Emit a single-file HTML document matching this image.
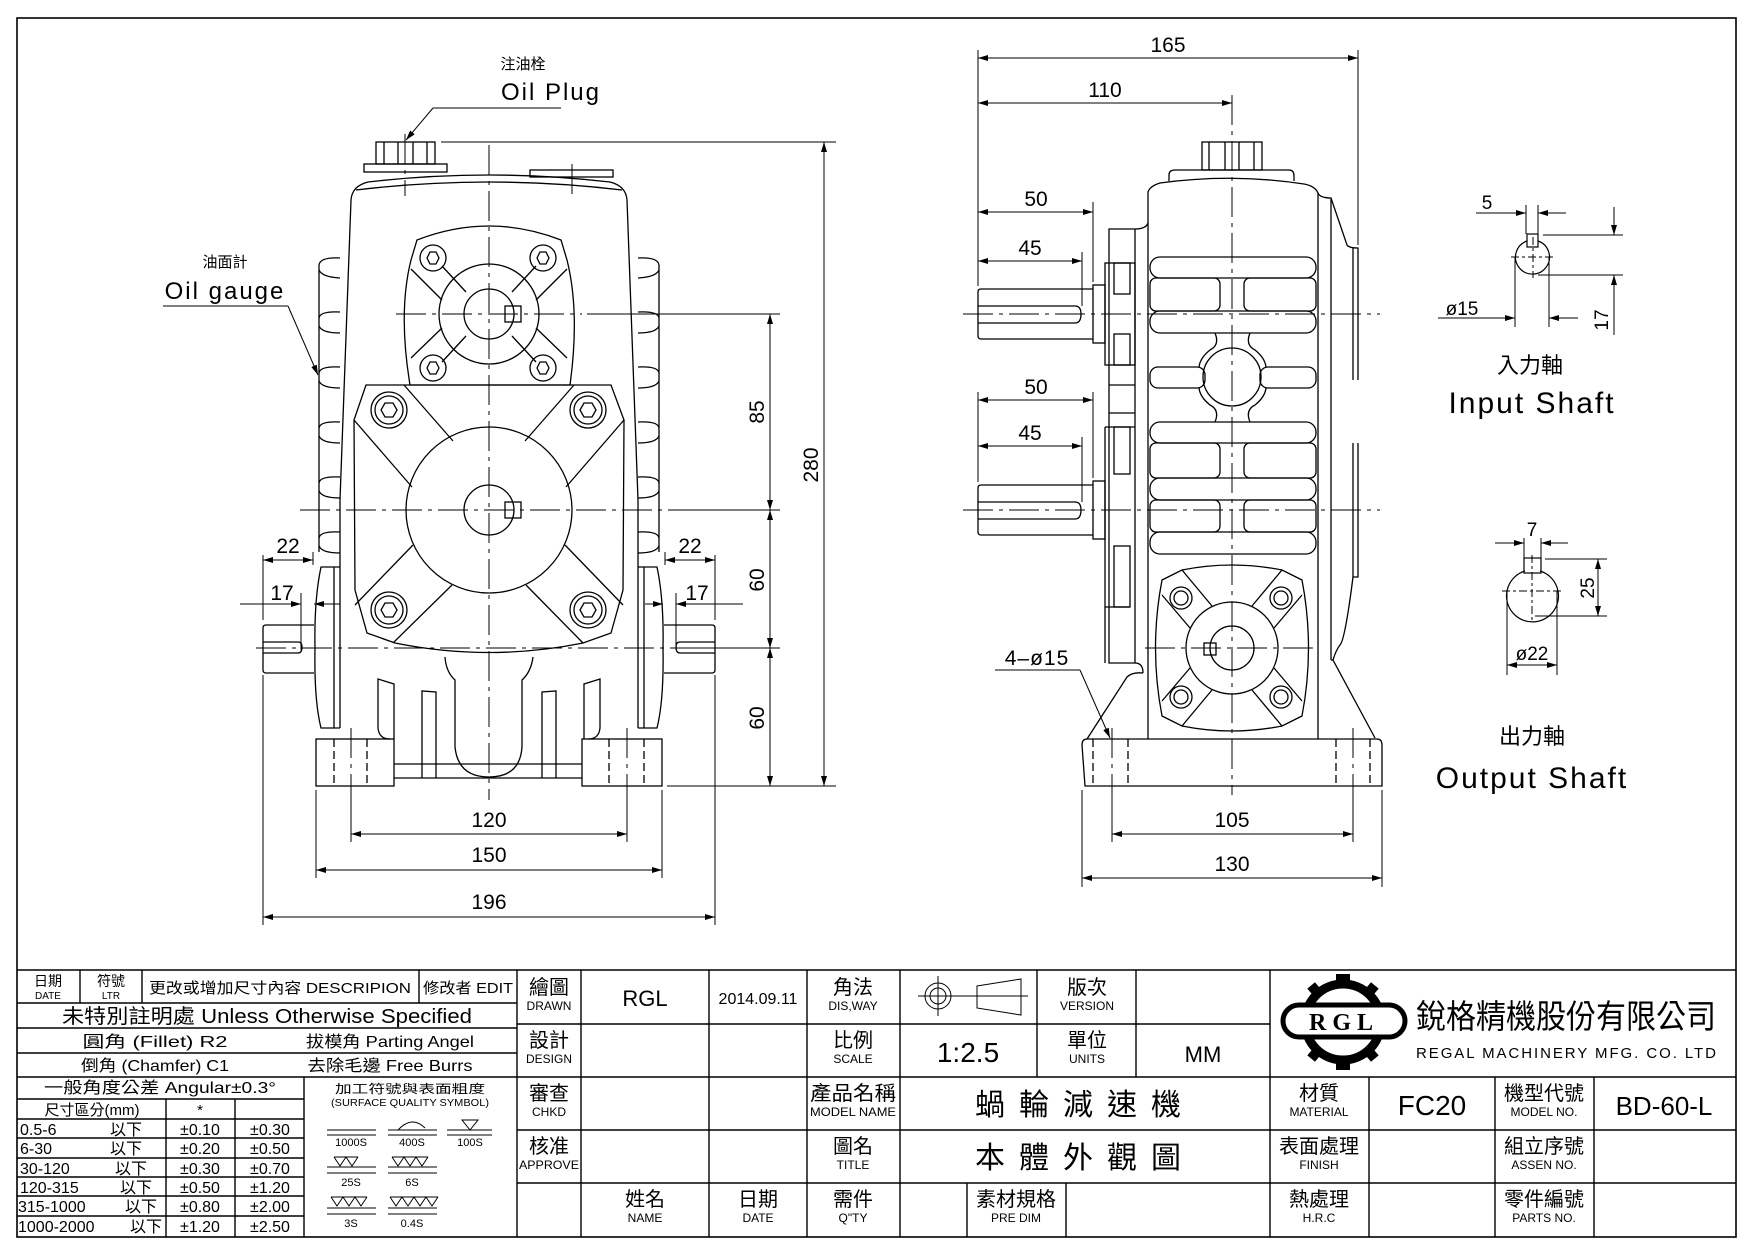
<!DOCTYPE html>
<html><head><meta charset="utf-8">
<style>
html,body{margin:0;padding:0;background:#fff;}
svg{display:block;}
text{font-family:"Liberation Sans","Noto Sans CJK TC",sans-serif;fill:#000;}
.t{font-family:"Liberation Serif","Noto Serif CJK SC","Noto Sans CJK TC",serif;}
.c{font-family:"Liberation Sans","Noto Sans CJK TC",sans-serif;}
</style></head><body>
<svg width="1754" height="1240" viewBox="0 0 1754 1240" xmlns="http://www.w3.org/2000/svg">
<defs>
<marker id="a" viewBox="0 0 10 6" refX="10" refY="3" markerWidth="10" markerHeight="6" orient="auto-start-reverse" markerUnits="userSpaceOnUse"><path d="M0,0 L10,3 L0,6z" fill="#000"/></marker>
</defs>
<rect x="17" y="18" width="1719" height="1219" fill="none" stroke="#000" stroke-width="1.6"/>

<g fill="none" stroke="#000" stroke-width="1.3">
<!-- ================= FRONT VIEW ================= -->
<!-- plug -->
<rect x="376" y="142" width="59" height="22"/>
<line x1="384" y1="142" x2="384" y2="164"/><line x1="398" y1="142" x2="398" y2="164"/><line x1="413" y1="142" x2="413" y2="164"/><line x1="427" y1="142" x2="427" y2="164"/>
<rect x="364" y="164" width="83" height="8"/>
<rect x="530" y="170" width="83" height="7"/>
<!-- body -->
<path d="M340,728 L340,500 L351,200 Q352,186 368,182 Q489,168 610,182 Q626,186 627,200 L638,500 L638,728"/>
<path d="M356,190 Q489,174 622,190"/>
<!-- fins -->
<line x1="319" y1="265" x2="319" y2="552"/><line x1="659" y1="265" x2="659" y2="552"/>
<g>
<path d="M319,265 Q320,257 340,258"/><path d="M319,270 Q322,277 340,278"/>
<path d="M319,318 Q320,311 340,312"/><path d="M319,326 Q322,333 340,333"/>
<path d="M319,373 Q320,366 340,367"/><path d="M319,381 Q322,388 340,388"/>
<path d="M319,428 Q320,421 340,422"/><path d="M319,436 Q322,443 340,443"/>
<path d="M319,483 Q320,476 340,477"/><path d="M319,491 Q322,498 340,498"/>
<path d="M319,538 Q320,531 340,532"/><path d="M319,546 Q322,553 340,553"/>
<path d="M659,265 Q658,257 638,258"/><path d="M659,270 Q656,277 638,278"/>
<path d="M659,318 Q658,311 638,312"/><path d="M659,326 Q656,333 638,333"/>
<path d="M659,373 Q658,366 638,367"/><path d="M659,381 Q656,388 638,388"/>
<path d="M659,428 Q658,421 638,422"/><path d="M659,436 Q656,443 638,443"/>
<path d="M659,483 Q658,476 638,477"/><path d="M659,491 Q656,498 638,498"/>
<path d="M659,538 Q658,531 638,532"/><path d="M659,546 Q656,553 638,553"/>
</g>
<!-- input flange -->
<path d="M417,240 Q489,212 561,240 L567,260 Q580,312 570,385 L410,385 Q398,312 411,260 Z"/>
<circle cx="489" cy="314" r="50"/>
<circle cx="489" cy="314" r="25"/>
<rect x="505" y="306" width="16" height="16"/>
<line x1="442" y1="266" x2="466" y2="292"/><line x1="411" y1="269" x2="442" y2="300"/>
<line x1="536" y1="266" x2="512" y2="292"/><line x1="567" y1="269" x2="536" y2="300"/>
<line x1="442" y1="362" x2="466" y2="336"/><line x1="411" y1="358" x2="442" y2="328"/>
<line x1="536" y1="362" x2="512" y2="336"/><line x1="567" y1="358" x2="536" y2="328"/>
<circle cx="433" cy="258" r="13"/><path d="M427,258 L430,252 L436,252 L439,258 L436,264 L430,264 Z"/>
<circle cx="543" cy="258" r="13"/><path d="M537,258 L540,252 L546,252 L549,258 L546,264 L540,264 Z"/>
<circle cx="433" cy="368" r="13"/><path d="M427,368 L430,362 L436,362 L439,368 L436,374 L430,374 Z"/>
<circle cx="543" cy="368" r="13"/><path d="M537,368 L540,362 L546,362 L549,368 L546,374 L540,374 Z"/>
<!-- output flange -->
<path d="M366,385 L611,385 L624,420 L623,590 L611,633 L583,643 Q489,662 395,643 L367,633 L355,590 L354,420 Z"/>
<circle cx="489" cy="510" r="83"/>
<circle cx="489" cy="510" r="25"/>
<rect x="505" y="502" width="16" height="16"/>
<line x1="404" y1="385" x2="453" y2="441"/><line x1="574" y1="385" x2="525" y2="441"/>
<line x1="354" y1="420" x2="412" y2="487"/><line x1="624" y1="420" x2="566" y2="487"/>
<line x1="355" y1="605" x2="413" y2="545"/><line x1="623" y1="605" x2="565" y2="545"/>
<line x1="393" y1="643" x2="452" y2="585"/><line x1="583" y1="643" x2="526" y2="585"/>
<circle cx="389" cy="410" r="18"/><circle cx="389" cy="410" r="14"/><path d="M381,410 L385,403 L393,403 L397,410 L393,417 L385,417 Z"/>
<circle cx="588" cy="410" r="18"/><circle cx="588" cy="410" r="14"/><path d="M580,410 L584,403 L592,403 L596,410 L592,417 L584,417 Z"/>
<circle cx="389" cy="610" r="18"/><circle cx="389" cy="610" r="14"/><path d="M381,610 L385,603 L393,603 L397,610 L393,617 L385,617 Z"/>
<circle cx="588" cy="610" r="18"/><circle cx="588" cy="610" r="14"/><path d="M580,610 L584,603 L592,603 L596,610 L592,617 L584,617 Z"/>
<!-- neck -->
<path d="M445,657 Q446,672 455,680 L455,747 Q458,777 489,777 Q520,777 522,747 L522,680 Q531,672 533,657"/>
<!-- ribs -->
<path d="M378,728 L378,679 L394,684 L394,739"/><path d="M378,728 Q379,739 390,739"/>
<path d="M600,728 L600,679 L584,684 L584,739"/><path d="M600,728 Q599,739 588,739"/>
<path d="M422,778 L422,691 L436,692 L436,778"/>
<path d="M556,778 L556,691 L542,692 L542,778"/>
<!-- side flanges -->
<path d="M340,567 L321,567 Q314,600 315,648 Q314,700 321,728 L340,728"/><line x1="334" y1="567" x2="334" y2="728"/>
<path d="M638,567 L657,567 Q664,600 663,648 Q664,700 657,728 L638,728"/><line x1="644" y1="567" x2="644" y2="728"/>
<!-- side shafts -->
<path d="M314,625 L266,625 Q263,625 263,628 L263,670 Q263,673 266,673 L314,673"/>
<path d="M263,642 L298,642 Q302,642 302,647 Q302,653 298,653 L263,653"/>
<path d="M664,625 L712,625 Q715,625 715,628 L715,670 Q715,673 712,673 L664,673"/>
<path d="M715,642 L680,642 Q676,642 676,647 Q676,653 680,653 L715,653"/>
<!-- feet & base -->
<rect x="316" y="739" width="78" height="47"/><rect x="582" y="739" width="80" height="47"/>
<line x1="394" y1="764" x2="582" y2="764"/><line x1="394" y1="778" x2="582" y2="778"/>
<g stroke-dasharray="8,4"><line x1="334" y1="739" x2="334" y2="786"/><line x1="367" y1="739" x2="367" y2="786"/><line x1="609" y1="739" x2="609" y2="786"/><line x1="644" y1="739" x2="644" y2="786"/></g>
</g>

<!-- center lines front -->
<g fill="none" stroke="#000" stroke-width="1" stroke-dasharray="30,6,4,6">
<line x1="489" y1="145" x2="489" y2="800"/>
<line x1="405" y1="134" x2="405" y2="196"/><line x1="572" y1="164" x2="572" y2="196"/>
<line x1="396" y1="314" x2="582" y2="314"/>
<line x1="300" y1="510" x2="680" y2="510"/>
<line x1="256" y1="648" x2="680" y2="648"/>
<line x1="351" y1="728" x2="351" y2="800"/><line x1="627" y1="728" x2="627" y2="800"/>
</g>

<!-- front dims -->
<g fill="none" stroke="#000" stroke-width="1">
<line x1="441" y1="142" x2="836" y2="142"/>
<line x1="587" y1="314" x2="780" y2="314"/>
<line x1="680" y1="510" x2="780" y2="510"/>
<line x1="680" y1="648" x2="780" y2="648"/>
<line x1="667" y1="786" x2="836" y2="786"/>
<line x1="824" y1="142" x2="824" y2="786" marker-start="url(#a)" marker-end="url(#a)"/>
<line x1="770" y1="314" x2="770" y2="510" marker-start="url(#a)" marker-end="url(#a)"/>
<line x1="770" y1="510" x2="770" y2="648" marker-start="url(#a)" marker-end="url(#a)"/>
<line x1="770" y1="648" x2="770" y2="786" marker-start="url(#a)" marker-end="url(#a)"/>
<line x1="263" y1="555" x2="263" y2="620"/><line x1="313" y1="552" x2="313" y2="565"/>
<line x1="263" y1="560" x2="313" y2="560" marker-start="url(#a)" marker-end="url(#a)"/>
<line x1="301" y1="593" x2="301" y2="650"/>
<line x1="240" y1="604" x2="301" y2="604" marker-end="url(#a)"/>
<line x1="340" y1="604" x2="314" y2="604" marker-end="url(#a)"/>
<line x1="715" y1="555" x2="715" y2="620"/><line x1="665" y1="552" x2="665" y2="565"/>
<line x1="665" y1="560" x2="715" y2="560" marker-start="url(#a)" marker-end="url(#a)"/>
<line x1="676" y1="593" x2="676" y2="650"/>
<line x1="743" y1="604" x2="676" y2="604" marker-end="url(#a)"/>
<line x1="645" y1="604" x2="663" y2="604" marker-end="url(#a)"/>
<line x1="263" y1="675" x2="263" y2="925"/><line x1="715" y1="675" x2="715" y2="925"/>
<line x1="316" y1="790" x2="316" y2="878"/><line x1="662" y1="790" x2="662" y2="878"/>
<line x1="351" y1="800" x2="351" y2="842"/><line x1="627" y1="800" x2="627" y2="842"/>
<line x1="351" y1="834" x2="627" y2="834" marker-start="url(#a)" marker-end="url(#a)"/>
<line x1="316" y1="870" x2="662" y2="870" marker-start="url(#a)" marker-end="url(#a)"/>
<line x1="263" y1="917" x2="715" y2="917" marker-start="url(#a)" marker-end="url(#a)"/>
<!-- leaders -->
<line x1="433" y1="108" x2="561" y2="108"/>
<line x1="433" y1="108" x2="406" y2="140" marker-end="url(#a)"/>
<line x1="163" y1="306" x2="288" y2="306"/>
<line x1="288" y1="306" x2="318" y2="375" marker-end="url(#a)"/>
</g>
<g font-size="21">
<text x="489" y="835" text-anchor="middle" dy="-8">120</text>
<text x="489" y="870" text-anchor="middle" dy="-8">150</text>
<text x="489" y="917" text-anchor="middle" dy="-8">196</text>
<text x="288" y="555" text-anchor="middle" dy="-2">22</text>
<text x="690" y="555" text-anchor="middle" dy="-2">22</text>
<text x="282" y="600" text-anchor="middle">17</text>
<text x="697" y="600" text-anchor="middle">17</text>
<text transform="translate(764,412) rotate(-90)" text-anchor="middle">85</text>
<text transform="translate(764,580) rotate(-90)" text-anchor="middle">60</text>
<text transform="translate(764,718) rotate(-90)" text-anchor="middle">60</text>
<text transform="translate(818,465) rotate(-90)" text-anchor="middle">280</text>
</g>
<text x="523" y="69" font-size="15" text-anchor="middle">注油栓</text>
<text x="551" y="100" font-size="24" text-anchor="middle" letter-spacing="2">Oil Plug</text>
<text x="225" y="267" font-size="15" text-anchor="middle">油面計</text>
<text x="225" y="299" font-size="24" text-anchor="middle" letter-spacing="2">Oil gauge</text>

<!-- ================= SIDE VIEW ================= -->
<g fill="none" stroke="#000" stroke-width="1.3">
<rect x="1202" y="142" width="60" height="28"/>
<line x1="1209" y1="142" x2="1209" y2="170"/><line x1="1225" y1="142" x2="1225" y2="170"/><line x1="1239" y1="142" x2="1239" y2="170"/><line x1="1254" y1="142" x2="1254" y2="170"/>
<path d="M1169,181 L1169,175 Q1169,170 1175,170 L1289,170 Q1294,170 1294,176 L1294,181"/>
<path d="M1148,739 L1148,192 Q1150,186 1160,183 Q1232,173 1304,184 Q1315,186 1318,193 L1318,739"/>
<path d="M1318,193 Q1320,198 1331,198 L1347,245 Q1349,248 1358,248 L1358,380"/>
<line x1="1331" y1="198" x2="1331" y2="660"/>
<line x1="1353" y1="248" x2="1353" y2="380"/>
<path d="M1358,443 L1358,577 L1353,577 L1353,443"/>
<path d="M1353,577 Q1345,640 1340,645 Q1336,650 1333,660 L1375,738"/>
<path d="M1331,660 L1333,660"/>
<!-- slots -->
<rect x="1150" y="257" width="166" height="21" rx="10"/>
<rect x="1150" y="278" width="70" height="33" rx="6"/><rect x="1244" y="278" width="72" height="33" rx="6"/>
<rect x="1150" y="311" width="166" height="22" rx="10"/>
<rect x="1150" y="367" width="55" height="21" rx="8"/><rect x="1260" y="367" width="56" height="21" rx="8"/>
<path d="M1215,333 Q1220,345 1210,350 Q1200,358 1199,367"/><path d="M1250,333 Q1245,345 1255,350 Q1265,358 1266,367"/>
<path d="M1215,422 Q1220,410 1210,405 Q1200,397 1199,388"/><path d="M1250,422 Q1245,410 1255,405 Q1265,397 1266,388"/>
<circle cx="1232" cy="377" r="29"/>
<rect x="1150" y="422" width="166" height="21" rx="10"/>
<rect x="1150" y="443" width="70" height="35" rx="6"/><rect x="1244" y="443" width="72" height="35" rx="6"/>
<rect x="1150" y="478" width="166" height="22" rx="10"/>
<rect x="1150" y="500" width="70" height="32" rx="6"/><rect x="1244" y="500" width="72" height="32" rx="6"/>
<rect x="1150" y="532" width="166" height="22" rx="10"/>
<!-- left flange parts -->
<path d="M1148,223 Q1146,229 1135,229 L1109,229 L1109,663 L1135,663 Q1143,663 1143,673"/>
<line x1="1135" y1="229" x2="1135" y2="663"/>
<rect x="1105" y="263" width="30" height="102"/><rect x="1114" y="263" width="16" height="31"/><rect x="1114" y="334" width="16" height="31"/>
<line x1="1109" y1="385" x2="1135" y2="385"/><line x1="1109" y1="413" x2="1135" y2="413"/>
<line x1="1105" y1="427" x2="1135" y2="427"/><line x1="1105" y1="427" x2="1105" y2="663"/>
<rect x="1114" y="427" width="16" height="47"/><rect x="1114" y="546" width="16" height="61"/><line x1="1105" y1="607" x2="1130" y2="607"/>
<!-- side shafts -->
<path d="M1093,289 L981,289 Q978,289 978,292 L978,336 Q978,339 981,339 L1093,339"/>
<path d="M978,306 L1075,306 Q1081,306 1081,314 Q1081,323 1075,323 L978,323"/>
<rect x="1093" y="285" width="12" height="58"/>
<path d="M1093,485 L981,485 Q978,485 978,488 L978,532 Q978,535 981,535 L1093,535"/>
<path d="M978,502 L1075,502 Q1081,502 1081,510 Q1081,519 1075,519 L978,519"/>
<rect x="1093" y="481" width="12" height="58"/>
<!-- output flange side -->
<path d="M1162,580 L1182,570 Q1232,560 1282,570 L1302,580 Q1315,648 1302,716 L1282,726 Q1232,736 1182,726 L1162,716 Q1149,648 1162,580 Z"/>
<circle cx="1232" cy="648" r="46"/><circle cx="1232" cy="648" r="22"/>
<rect x="1204" y="643" width="12" height="12"/>
<line x1="1182" y1="570" x2="1212" y2="606"/><line x1="1162" y1="595" x2="1190" y2="628"/>
<line x1="1282" y1="570" x2="1252" y2="606"/><line x1="1302" y1="595" x2="1274" y2="628"/>
<line x1="1182" y1="726" x2="1212" y2="690"/><line x1="1162" y1="701" x2="1190" y2="668"/>
<line x1="1282" y1="726" x2="1252" y2="690"/><line x1="1302" y1="701" x2="1274" y2="668"/>
<circle cx="1181" cy="598" r="11"/><circle cx="1181" cy="598" r="7"/>
<circle cx="1281" cy="598" r="11"/><circle cx="1281" cy="598" r="7"/>
<circle cx="1181" cy="697" r="11"/><circle cx="1181" cy="697" r="7"/>
<circle cx="1281" cy="697" r="11"/><circle cx="1281" cy="697" r="7"/>
<!-- base -->
<path d="M1085,786 L1082,745 Q1082,739 1087,739 L1377,739 Q1382,739 1382,745 L1382,786 Z"/>
<path d="M1087,739 L1127,677 Q1132,672 1143,673"/>
<g stroke-dasharray="8,4"><line x1="1093" y1="739" x2="1093" y2="786"/><line x1="1128" y1="739" x2="1128" y2="786"/><line x1="1336" y1="739" x2="1336" y2="786"/><line x1="1370" y1="739" x2="1370" y2="786"/></g>
</g>
<g fill="none" stroke="#000" stroke-width="1" stroke-dasharray="30,6,4,6">
<line x1="1232" y1="95" x2="1232" y2="795"/>
<line x1="963" y1="314" x2="1380" y2="314"/>
<line x1="963" y1="510" x2="1380" y2="510"/>
<line x1="1145" y1="648" x2="1318" y2="648"/>
<line x1="1112" y1="728" x2="1112" y2="800"/><line x1="1353" y1="728" x2="1353" y2="800"/>
</g>
<g fill="none" stroke="#000" stroke-width="1">
<line x1="978" y1="50" x2="978" y2="286"/>
<line x1="1358" y1="50" x2="1358" y2="245"/>
<line x1="978" y1="58" x2="1358" y2="58" marker-start="url(#a)" marker-end="url(#a)"/>
<line x1="978" y1="103" x2="1232" y2="103" marker-start="url(#a)" marker-end="url(#a)"/>
<line x1="1093" y1="202" x2="1093" y2="282"/><line x1="1082" y1="252" x2="1082" y2="306"/>
<line x1="978" y1="212" x2="1093" y2="212" marker-start="url(#a)" marker-end="url(#a)"/>
<line x1="978" y1="261" x2="1082" y2="261" marker-start="url(#a)" marker-end="url(#a)"/>
<line x1="978" y1="392" x2="978" y2="482"/>
<line x1="1093" y1="392" x2="1093" y2="478"/><line x1="1082" y1="437" x2="1082" y2="502"/>
<line x1="978" y1="400" x2="1093" y2="400" marker-start="url(#a)" marker-end="url(#a)"/>
<line x1="978" y1="446" x2="1082" y2="446" marker-start="url(#a)" marker-end="url(#a)"/>
<line x1="1082" y1="790" x2="1082" y2="887"/><line x1="1382" y1="790" x2="1382" y2="887"/>
<line x1="1112" y1="800" x2="1112" y2="842"/><line x1="1353" y1="800" x2="1353" y2="842"/>
<line x1="1112" y1="834" x2="1353" y2="834" marker-start="url(#a)" marker-end="url(#a)"/>
<line x1="1082" y1="878" x2="1382" y2="878" marker-start="url(#a)" marker-end="url(#a)"/>
<line x1="995" y1="670" x2="1080" y2="670"/>
<line x1="1080" y1="670" x2="1110" y2="738" marker-end="url(#a)"/>
</g>
<g font-size="21">
<text x="1168" y="52" text-anchor="middle">165</text>
<text x="1105" y="97" text-anchor="middle">110</text>
<text x="1036" y="206" text-anchor="middle">50</text>
<text x="1030" y="255" text-anchor="middle">45</text>
<text x="1036" y="394" text-anchor="middle">50</text>
<text x="1030" y="440" text-anchor="middle">45</text>
<text x="1232" y="827" text-anchor="middle">105</text>
<text x="1232" y="871" text-anchor="middle">130</text>
<text x="1037" y="665" text-anchor="middle" letter-spacing="1">4–ø15</text>
</g>

<!-- ================= SHAFT DETAILS ================= -->
<g fill="none" stroke="#000" stroke-width="1.2">
<path d="M1527,241 A17,17 0 1 0 1538,241"/>
<rect x="1527" y="234" width="11" height="13"/>
<path d="M1525,571 A26,26 0 1 0 1540,571"/>
<rect x="1524" y="558" width="17" height="15"/>
</g>
<g fill="none" stroke="#000" stroke-width="1">
<line x1="1533" y1="237" x2="1533" y2="278" stroke-dasharray="8,3,3,3"/><line x1="1511" y1="257" x2="1555" y2="257" stroke-dasharray="8,3,3,3"/>
<line x1="1532" y1="555" x2="1532" y2="620" stroke-dasharray="8,3,3,3"/><line x1="1502" y1="591" x2="1563" y2="591" stroke-dasharray="8,3,3,3"/>
<line x1="1526" y1="205" x2="1526" y2="234"/><line x1="1538" y1="205" x2="1538" y2="234"/>
<line x1="1476" y1="213" x2="1526" y2="213" marker-end="url(#a)"/><line x1="1566" y1="213" x2="1538" y2="213" marker-end="url(#a)"/>
<line x1="1515" y1="257" x2="1515" y2="327"/><line x1="1549" y1="257" x2="1549" y2="327"/>
<line x1="1438" y1="318" x2="1515" y2="318" marker-end="url(#a)"/><line x1="1578" y1="318" x2="1549" y2="318" marker-end="url(#a)"/>
<line x1="1543" y1="235" x2="1623" y2="235"/><line x1="1538" y1="275" x2="1623" y2="275"/>
<line x1="1614" y1="207" x2="1614" y2="235" marker-end="url(#a)"/><line x1="1614" y1="335" x2="1614" y2="275" marker-end="url(#a)"/>
<line x1="1524" y1="538" x2="1524" y2="558"/><line x1="1541" y1="538" x2="1541" y2="558"/>
<line x1="1495" y1="543" x2="1524" y2="543" marker-end="url(#a)"/><line x1="1568" y1="543" x2="1541" y2="543" marker-end="url(#a)"/>
<line x1="1545" y1="559" x2="1607" y2="559"/><line x1="1535" y1="616" x2="1607" y2="616"/>
<line x1="1598" y1="559" x2="1598" y2="616" marker-start="url(#a)" marker-end="url(#a)"/>
<line x1="1507" y1="591" x2="1507" y2="675"/><line x1="1557" y1="591" x2="1557" y2="675"/>
<line x1="1507" y1="665" x2="1557" y2="665" marker-start="url(#a)" marker-end="url(#a)"/>
</g>
<g font-size="19">
<text x="1487" y="209" text-anchor="middle">5</text>
<text x="1462" y="315" text-anchor="middle">ø15</text>
<text transform="translate(1608,320) rotate(-90)" text-anchor="middle">17</text>
<text x="1532" y="536" text-anchor="middle">7</text>
<text transform="translate(1594,588) rotate(-90)" text-anchor="middle">25</text>
<text x="1532" y="660" text-anchor="middle">ø22</text>
</g>
<text x="1530" y="373" font-size="22" text-anchor="middle">入力軸</text>
<text x="1532" y="413" font-size="30" text-anchor="middle" letter-spacing="2">Input Shaft</text>
<text x="1532" y="744" font-size="22" text-anchor="middle">出力軸</text>
<text x="1532" y="788" font-size="30" text-anchor="middle" letter-spacing="2">Output Shaft</text>

<!-- ================= TITLE BLOCK ================= -->
<g fill="none" stroke="#000" stroke-width="1.4">
<line x1="17" y1="970" x2="1736" y2="970"/>
<line x1="17" y1="1003" x2="517" y2="1003"/><line x1="17" y1="1028" x2="517" y2="1028"/><line x1="17" y1="1053" x2="517" y2="1053"/><line x1="17" y1="1077" x2="517" y2="1077"/>
<line x1="80" y1="970" x2="80" y2="1003"/><line x1="142" y1="970" x2="142" y2="1003"/><line x1="419" y1="970" x2="419" y2="1003"/>
<line x1="304" y1="1077" x2="304" y2="1237"/>
<line x1="166" y1="1099" x2="166" y2="1237"/><line x1="235" y1="1099" x2="235" y2="1237"/>
<line x1="17" y1="1099" x2="304" y2="1099"/><line x1="17" y1="1119" x2="304" y2="1119"/><line x1="17" y1="1138" x2="304" y2="1138"/><line x1="17" y1="1158" x2="304" y2="1158"/><line x1="17" y1="1177" x2="304" y2="1177"/><line x1="17" y1="1196" x2="304" y2="1196"/><line x1="17" y1="1216" x2="304" y2="1216"/>
<line x1="517" y1="970" x2="517" y2="1237"/>
<line x1="517" y1="1024" x2="1270" y2="1024"/><line x1="517" y1="1077" x2="1736" y2="1077"/><line x1="517" y1="1130" x2="1736" y2="1130"/><line x1="517" y1="1183" x2="1736" y2="1183"/>
<line x1="581" y1="970" x2="581" y2="1237"/><line x1="709" y1="970" x2="709" y2="1237"/><line x1="807" y1="970" x2="807" y2="1237"/><line x1="900" y1="970" x2="900" y2="1237"/>
<line x1="1037" y1="970" x2="1037" y2="1077"/><line x1="1136" y1="970" x2="1136" y2="1077"/>
<line x1="967" y1="1183" x2="967" y2="1237"/><line x1="1066" y1="1183" x2="1066" y2="1237"/>
<line x1="1270" y1="970" x2="1270" y2="1237"/><line x1="1369" y1="1077" x2="1369" y2="1237"/><line x1="1495" y1="1077" x2="1495" y2="1237"/><line x1="1594" y1="1077" x2="1594" y2="1237"/>
</g>
<!-- projection symbol -->
<g fill="none" stroke="#000" stroke-width="1">
<circle cx="938" cy="996" r="13"/><circle cx="938" cy="996" r="8"/>
<line x1="918" y1="996" x2="1028" y2="996"/><line x1="938" y1="976" x2="938" y2="1016"/>
<path d="M977,986 L1021,979 L1021,1015 L977,1008 Z"/>
</g>
<!-- surface symbols -->
<g fill="none" stroke="#000" stroke-width="1">
<line x1="327" y1="1130" x2="376" y2="1130"/><line x1="327" y1="1135" x2="376" y2="1135"/>
<line x1="388" y1="1130" x2="437" y2="1130"/><line x1="388" y1="1135" x2="437" y2="1135"/><path d="M398,1130 Q412,1115 425,1128"/>
<line x1="447" y1="1130" x2="492" y2="1130"/><line x1="447" y1="1135" x2="492" y2="1135"/><path d="M462,1120 L478,1120 L470,1130 Z"/>
<line x1="327" y1="1173" x2="376" y2="1173"/><line x1="327" y1="1167" x2="376" y2="1167"/><path d="M334,1157 L340,1166 L346,1157 L352,1166 L358,1157 M334,1157 L358,1157"/>
<line x1="388" y1="1173" x2="437" y2="1173"/><line x1="388" y1="1167" x2="437" y2="1167"/><path d="M392,1157 L398,1166 L404,1157 L410,1166 L416,1157 L422,1166 L428,1157 M392,1157 L428,1157"/>
<line x1="327" y1="1214" x2="376" y2="1214"/><line x1="327" y1="1208" x2="376" y2="1208"/><path d="M331,1197 L337,1206 L343,1197 L349,1206 L355,1197 L361,1206 L367,1197 M331,1197 L367,1197"/>
<line x1="388" y1="1214" x2="437" y2="1214"/><line x1="388" y1="1208" x2="437" y2="1208"/><path d="M390,1197 L396,1206 L402,1197 L408,1206 L414,1197 L420,1206 L426,1197 L432,1206 L438,1197 M390,1197 L438,1197"/>
</g>
<g class="c" font-size="11" text-anchor="middle">
<text x="351" y="1146">1000S</text><text x="412" y="1146">400S</text><text x="470" y="1146">100S</text>
<text x="351" y="1186">25S</text><text x="412" y="1186">6S</text>
<text x="351" y="1227">3S</text><text x="412" y="1227">0.4S</text>
</g>

<g class="t" text-anchor="middle">
<text x="48" y="986" font-size="14">日期</text><text x="48" y="999" font-size="10">DATE</text>
<text x="111" y="986" font-size="14">符號</text><text x="111" y="999" font-size="10">LTR</text>
<text x="280" y="993" font-size="15" textLength="262" lengthAdjust="spacingAndGlyphs">更改或增加尺寸內容 DESCRIPION</text>
<text x="468" y="993" font-size="15" textLength="90" lengthAdjust="spacingAndGlyphs">修改者 EDIT</text>
<text x="267" y="1023" font-size="20" textLength="410" lengthAdjust="spacingAndGlyphs">未特別註明處 Unless Otherwise Specified</text>
<text x="155" y="1047" font-size="16" textLength="145" lengthAdjust="spacingAndGlyphs">圓角 (Fillet) R2</text>
<text x="390" y="1047" font-size="16" textLength="168" lengthAdjust="spacingAndGlyphs">拔模角 Parting Angel</text>
<text x="155" y="1071" font-size="16" textLength="148" lengthAdjust="spacingAndGlyphs">倒角 (Chamfer) C1</text>
<text x="390" y="1071" font-size="16" textLength="165" lengthAdjust="spacingAndGlyphs">去除毛邊 Free Burrs</text>
<text x="160" y="1093" font-size="16" textLength="232" lengthAdjust="spacingAndGlyphs">一般角度公差 Angular±0.3°</text>
<text x="410" y="1093" font-size="12" textLength="150" lengthAdjust="spacingAndGlyphs">加工符號與表面粗度</text>
<text x="410" y="1106" font-size="10" textLength="158" lengthAdjust="spacingAndGlyphs">(SURFACE QUALITY SYMBOL)</text>
<text x="92" y="1115" font-size="15">尺寸區分(mm)</text>
<text x="200" y="1115" font-size="15">*</text>
</g>
<g class="t" font-size="16">
<text x="20" y="1135">0.5-6</text><text x="110" y="1135">以下</text><text x="200" y="1135" text-anchor="middle">±0.10</text><text x="270" y="1135" text-anchor="middle">±0.30</text>
<text x="20" y="1154">6-30</text><text x="110" y="1154">以下</text><text x="200" y="1154" text-anchor="middle">±0.20</text><text x="270" y="1154" text-anchor="middle">±0.50</text>
<text x="20" y="1174">30-120</text><text x="115" y="1174">以下</text><text x="200" y="1174" text-anchor="middle">±0.30</text><text x="270" y="1174" text-anchor="middle">±0.70</text>
<text x="20" y="1193">120-315</text><text x="120" y="1193">以下</text><text x="200" y="1193" text-anchor="middle">±0.50</text><text x="270" y="1193" text-anchor="middle">±1.20</text>
<text x="18" y="1212">315-1000</text><text x="125" y="1212">以下</text><text x="200" y="1212" text-anchor="middle">±0.80</text><text x="270" y="1212" text-anchor="middle">±2.00</text>
<text x="18" y="1232">1000-2000</text><text x="130" y="1232">以下</text><text x="200" y="1232" text-anchor="middle">±1.20</text><text x="270" y="1232" text-anchor="middle">±2.50</text>
</g>
<g class="t" text-anchor="middle">
<g font-size="20">
<text x="549" y="994">繪圖</text><text x="549" y="1047">設計</text><text x="549" y="1100">審查</text><text x="549" y="1153">核准</text>
<text x="853" y="994">角法</text><text x="853" y="1047">比例</text><text x="853" y="1100" textLength="86" lengthAdjust="spacingAndGlyphs">產品名稱</text><text x="853" y="1153">圖名</text>
<text x="1087" y="994">版次</text><text x="1087" y="1047">單位</text>
<text x="1319" y="1100">材質</text><text x="1319" y="1153">表面處理</text><text x="1319" y="1206">熱處理</text>
<text x="1544" y="1100">機型代號</text><text x="1544" y="1153">組立序號</text><text x="1544" y="1206">零件編號</text>
<text x="645" y="1206">姓名</text><text x="758" y="1206">日期</text><text x="853" y="1206">需件</text><text x="1016" y="1206">素材規格</text>
</g>
<g font-size="12">
<text x="549" y="1010">DRAWN</text><text x="549" y="1063">DESIGN</text><text x="549" y="1116">CHKD</text><text x="549" y="1169" textLength="60" lengthAdjust="spacingAndGlyphs">APPROVE</text>
<text x="853" y="1010">DIS,WAY</text><text x="853" y="1063">SCALE</text><text x="853" y="1116" textLength="86" lengthAdjust="spacingAndGlyphs">MODEL NAME</text><text x="853" y="1169">TITLE</text>
<text x="1087" y="1010">VERSION</text><text x="1087" y="1063">UNITS</text>
<text x="1319" y="1116">MATERIAL</text><text x="1319" y="1169">FINISH</text><text x="1319" y="1222">H.R.C</text>
<text x="1544" y="1116">MODEL NO.</text><text x="1544" y="1169">ASSEN NO.</text><text x="1544" y="1222">PARTS NO.</text>
<text x="645" y="1222">NAME</text><text x="758" y="1222">DATE</text><text x="853" y="1222">Q"TY</text><text x="1016" y="1222">PRE DIM</text>
</g>
<text x="645" y="1006" font-size="22">RGL</text>
<text x="758" y="1004" font-size="16">2014.09.11</text>
<text x="968" y="1062" font-size="28">1:2.5</text>
<text x="1203" y="1062" font-size="22">MM</text>
<text x="1432" y="1115" font-size="28">FC20</text>
<text x="1664" y="1115" font-size="26">BD-60-L</text>
<text x="1085" y="1115" font-size="30" letter-spacing="14">蝸輪減速機</text>
<text x="1085" y="1168" font-size="30" letter-spacing="14">本體外觀圖</text>
</g>
<!-- logo -->
<g>
<circle cx="1343" cy="1022" r="38" fill="none" stroke="#000" stroke-width="9"/>
<g fill="#000">
<rect x="1336" y="974" width="14" height="10"/><rect x="1336" y="1060" width="14" height="10"/>
<rect x="1310" y="984" width="10" height="12" transform="rotate(-40 1315 990)"/><rect x="1366" y="984" width="10" height="12" transform="rotate(40 1371 990)"/>
<rect x="1310" y="1048" width="10" height="12" transform="rotate(40 1315 1054)"/><rect x="1366" y="1048" width="10" height="12" transform="rotate(-40 1371 1054)"/>
</g>
<rect x="1283" y="1005" width="122" height="32" rx="16" fill="#fff" stroke="#000" stroke-width="5"/>
<text x="1344" y="1030" class="t" font-size="24" font-weight="bold" text-anchor="middle" letter-spacing="6">RGL</text>
</g>
<text x="1566" y="1028" font-size="33" text-anchor="middle" textLength="300" lengthAdjust="spacingAndGlyphs" class="c">銳格精機股份有限公司</text>
<text x="1566" y="1058" font-size="15" text-anchor="middle" textLength="300" lengthAdjust="spacing" class="c">REGAL MACHINERY MFG. CO. LTD</text>
</svg>
</body></html>
